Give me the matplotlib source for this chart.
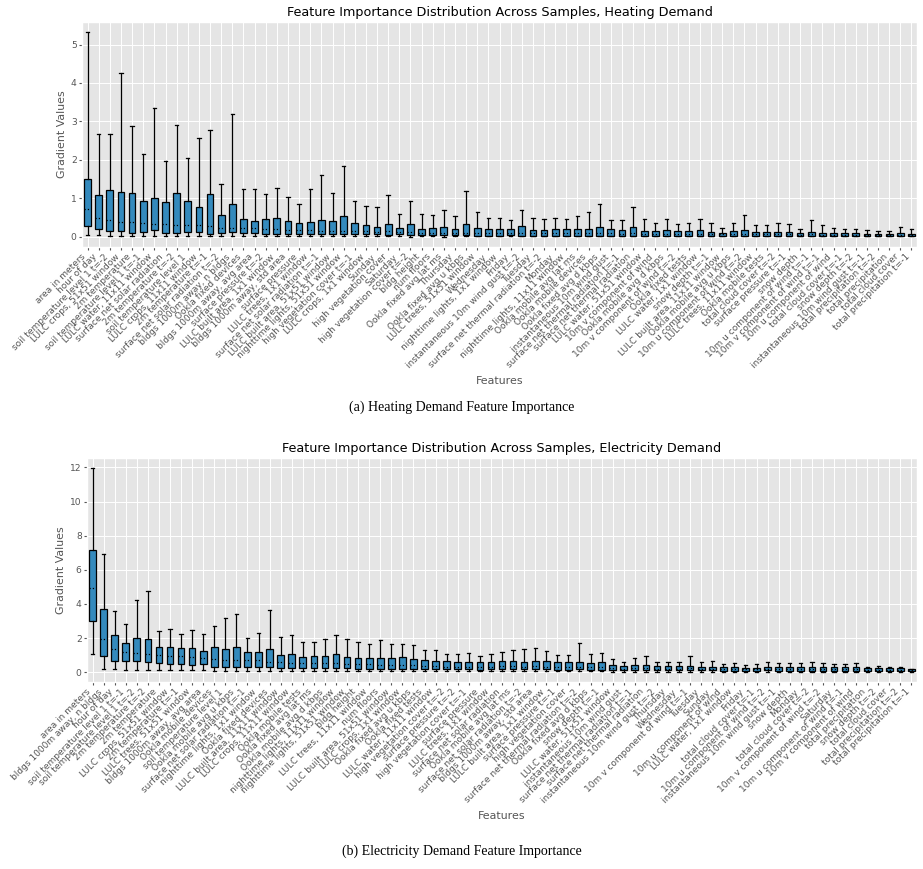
import matplotlib
matplotlib.use("Agg")
import matplotlib.pyplot as plt

# heating demand: features sorted by importance
heat_feats = [
    "area in meters", "hour of day", "soil temperature level 1 t=-2", "LULC crops, 51x51 window",
    "2m temperature", "soil temperature level 1 t=-1", "LULC water, 11x11 window",
    "surface net solar radiation", "2m temperature t=-2", "soil temperature level 1",
    "LULC crops, 11x11 window", "2m temperature t=-1", "surface net solar radiation t=-2",
    "bldgs 1000m away, n bldgs", "Ookla fixed devices", "bldgs 1000m away, avg area",
    "surface pressure t=-2", "LULC built area, 1x1 window", "bldgs 1000m away, std area",
    "surface pressure", "LULC trees, 1x1 window", "surface net solar radiation t=-1",
    "LULC built area, 51x51 window", "nighttime lights, 51x51 window", "high vegetation cover t=-1",
    "LULC crops, 1x1 window", "Sunday", "high vegetation cover", "Saturday",
    "high vegetation cover t=-2", "bldg height", "num floors", "Ookla fixed avg lat ms",
    "Thursday", "Ookla fixed avg u kbps", "LULC trees, 51x51 window", "Wednesday",
    "nighttime lights, 1x1 window", "Friday", "instantaneous 10m wind gust t=-2", "Tuesday",
    "surface net thermal radiation t=-2", "Monday", "nighttime lights, 11x11 window",
    "Ookla mobile avg lat ms", "Ookla mobile devices", "Ookla fixed avg d kbps",
    "instantaneous 10m wind gust", "surface net thermal radiation t=-1",
    "surface net thermal radiation", "LULC water, 51x51 window", "10m v component of wind",
    "Ookla mobile avg d kbps", "10m v component of wind t=-2", "Ookla fixed tests",
    "LULC water, 1x1 window", "snow depth t=-1", "LULC built area, 11x11 window",
    "Ookla mobile avg u kbps", "10m u component of wind t=-2", "LULC trees, 11x11 window",
    "Ookla mobile tests", "total cloud cover t=-2", "surface pressure t=-1", "snow depth",
    "10m u component of wind t=-1", "10m v component of wind t=-1", "10m u component of wind",
    "total cloud cover t=-1", "snow depth t=-2", "instantaneous 10m wind gust t=-1",
    "total precipitation t=-2", "total precipitation", "total cloud cover",
    "total precipitation t=-1",
]
heat_hi = [5.32, 2.67, 2.67, 4.25, 2.88, 2.15, 3.34, 1.97, 2.90, 2.05,
           2.57, 2.78, 1.38, 3.20, 1.24, 1.24, 1.11, 1.27, 1.03, 0.85,
           1.24, 1.61, 1.13, 1.84, 0.92, 0.80, 0.78, 1.09, 0.58, 0.94,
           0.58, 0.57, 0.70, 0.55, 1.19, 0.65, 0.49, 0.50, 0.44, 0.69,
           0.49, 0.47, 0.49, 0.45, 0.53, 0.64, 0.86, 0.44, 0.44, 0.77,
           0.47, 0.37, 0.47, 0.33, 0.36, 0.45, 0.37, 0.24, 0.37, 0.57,
           0.30, 0.31, 0.36, 0.33, 0.19, 0.44, 0.30, 0.22, 0.20, 0.20,
           0.17, 0.16, 0.15, 0.26, 0.20]
heat_q3 = [1.50, 1.09, 1.21, 1.17, 1.14, 0.93, 1.01, 0.91, 1.14, 0.92,
           0.78, 1.10, 0.56, 0.85, 0.46, 0.42, 0.46, 0.48, 0.40, 0.36,
           0.38, 0.44, 0.40, 0.55, 0.35, 0.31, 0.25, 0.33, 0.23, 0.32,
           0.21, 0.22, 0.25, 0.20, 0.34, 0.24, 0.19, 0.19, 0.20, 0.27,
           0.18, 0.18, 0.20, 0.19, 0.20, 0.20, 0.25, 0.20, 0.17, 0.25,
           0.16, 0.16, 0.17, 0.15, 0.14, 0.17, 0.13, 0.10, 0.14, 0.17,
           0.12, 0.12, 0.13, 0.12, 0.10, 0.13, 0.10, 0.10, 0.10, 0.09,
           0.08, 0.08, 0.08, 0.09, 0.07]
heat_med = [0.73, 0.49, 0.44, 0.39, 0.39, 0.35, 0.33, 0.33, 0.31, 0.31,
            0.30, 0.27, 0.24, 0.24, 0.22, 0.22, 0.20, 0.20, 0.17, 0.17,
            0.17, 0.16, 0.16, 0.14, 0.14, 0.14, 0.12, 0.14, 0.12, 0.12,
            0.10, 0.10, 0.10, 0.10, 0.10, 0.10, 0.09, 0.09, 0.10, 0.10,
            0.09, 0.09, 0.09, 0.09, 0.09, 0.09, 0.10, 0.09, 0.08, 0.09,
            0.08, 0.08, 0.08, 0.07, 0.07, 0.08, 0.07, 0.06, 0.07, 0.07,
            0.06, 0.06, 0.06, 0.06, 0.05, 0.06, 0.05, 0.05, 0.05, 0.05,
            0.04, 0.04, 0.04, 0.04, 0.04]
heat_q1 = [0.28, 0.19, 0.14, 0.15, 0.10, 0.12, 0.17, 0.10, 0.10, 0.12,
           0.12, 0.06, 0.10, 0.12, 0.10, 0.10, 0.08, 0.08, 0.08, 0.08,
           0.08, 0.06, 0.06, 0.06, 0.06, 0.06, 0.06, 0.04, 0.06, 0.04,
           0.05, 0.04, 0.04, 0.04, 0.04, 0.03, 0.03, 0.03, 0.04, 0.03,
           0.03, 0.03, 0.03, 0.03, 0.03, 0.03, 0.03, 0.03, 0.03, 0.03,
           0.03, 0.03, 0.03, 0.03, 0.03, 0.03, 0.03, 0.03, 0.03, 0.03,
           0.02, 0.02, 0.02, 0.02, 0.02, 0.02, 0.02, 0.02, 0.02, 0.02,
           0.02, 0.02, 0.02, 0.02, 0.02]
heat_lo = [0.04, 0.04, 0.02, 0.03, 0.02, 0.02, 0.03, 0.02, 0.02, 0.02,
           0.02, 0.03, 0.02, 0.02, 0.02, 0.02, 0.02, 0.02, 0.02, 0.02,
           0.02, 0.02, 0.02, 0.02, 0.02, 0.02, 0.02, 0.01, 0.02, 0.00,
           0.02, 0.01, 0.00, 0.01, 0.02, 0.01, 0.01, 0.01, 0.01, 0.01,
           0.01, 0.01, 0.01, 0.01, 0.01, 0.01, 0.01, 0.01, 0.01, 0.01,
           0.01, 0.01, 0.01, 0.01, 0.01, 0.01, 0.01, 0.01, 0.01, 0.01,
           0.01, 0.01, 0.01, 0.01, 0.01, 0.01, 0.01, 0.01, 0.01, 0.01,
           0.01, 0.01, 0.01, 0.01, 0.01]

# electricity demand
elec_feats = [
    "area in meters", "bldgs 1000m away, n bldgs", "hour of day", "soil temperature level 1 t=-1",
    "soil temperature level 1 t=-2", "2m temperature t=-2", "2m temperature",
    "LULC crops, 51x51 window", "2m temperature t=-1", "LULC trees, 51x51 window",
    "bldgs 1000m away, avg area", "Ookla mobile devices", "soil temperature level 1",
    "Ookla mobile avg u kbps", "surface net solar radiation t=-1", "nighttime lights, 1x1 window",
    "Ookla fixed devices", "LULC built area, 11x11 window", "LULC crops, 11x11 window",
    "Ookla mobile tests", "Ookla fixed avg lat ms", "Ookla mobile avg d kbps",
    "nighttime lights, 11x11 window", "nighttime lights, 51x51 window", "bldg height",
    "LULC trees, 11x11 window", "num floors", "LULC built area, 51x51 window",
    "LULC crops, 1x1 window", "Ookla fixed avg u kbps", "Ookla fixed tests",
    "LULC water, 11x11 window", "high vegetation cover t=-2", "surface pressure t=-2",
    "high vegetation cover t=-1", "surface pressure", "LULC trees, 1x1 window",
    "surface net solar radiation", "Ookla mobile avg lat ms", "surface net solar radiation t=-2",
    "bldgs 1000m away, std area", "LULC built area, 1x1 window", "surface pressure t=-1",
    "high vegetation cover", "surface net thermal radiation t=-2", "Ookla fixed avg d kbps",
    "snow depth t=-1", "LULC water, 51x51 window", "instantaneous 10m wind gust",
    "surface net thermal radiation t=-1", "surface net thermal radiation",
    "instantaneous 10m wind gust t=-2", "Thursday", "Wednesday", "10m v component of wind t=-1",
    "Tuesday", "Sunday", "10m u component of wind", "LULC water, 1x1 window", "Friday",
    "total cloud cover t=-1", "10m u component of wind t=-2", "instantaneous 10m wind gust t=-1",
    "snow depth", "Monday", "total cloud cover t=-2", "10m v component of wind t=-2",
    "Saturday", "10m u component of wind t=-1", "10m v component of wind",
    "total precipitation", "snow depth t=-2", "total cloud cover", "total precipitation t=-2",
    "total precipitation t=-1",
]
elec_hi = [11.96, 6.92, 3.58, 2.83, 4.26, 4.73, 2.40, 2.52, 2.21, 2.48,
           2.21, 2.68, 3.15, 3.42, 2.03, 2.29, 3.65, 2.09, 2.15, 1.78,
           1.74, 1.93, 2.17, 1.92, 1.76, 1.64, 1.88, 1.64, 1.68, 1.58,
           1.29, 1.29, 1.07, 1.07, 1.11, 0.96, 1.07, 1.21, 1.31, 1.35,
           1.41, 1.25, 0.98, 0.98, 1.72, 1.07, 1.11, 0.80, 0.59, 0.84,
           0.92, 0.61, 0.57, 0.61, 0.96, 0.57, 0.64, 0.49, 0.53, 0.43,
           0.45, 0.61, 0.53, 0.51, 0.51, 0.57, 0.51, 0.49, 0.49, 0.51,
           0.31, 0.39, 0.33, 0.33, 0.21]
elec_q3 = [7.19, 3.69, 2.17, 1.70, 2.01, 1.95, 1.47, 1.45, 1.39, 1.41,
           1.25, 1.47, 1.35, 1.49, 1.19, 1.21, 1.35, 1.00, 1.06, 0.90,
           0.94, 0.94, 1.04, 0.88, 0.82, 0.84, 0.84, 0.84, 0.86, 0.80,
           0.72, 0.68, 0.63, 0.61, 0.59, 0.57, 0.61, 0.66, 0.66, 0.61,
           0.64, 0.63, 0.57, 0.57, 0.61, 0.55, 0.59, 0.43, 0.35, 0.41,
           0.43, 0.35, 0.35, 0.35, 0.39, 0.33, 0.33, 0.29, 0.29, 0.27,
           0.27, 0.33, 0.29, 0.29, 0.29, 0.29, 0.29, 0.29, 0.29, 0.29,
           0.23, 0.25, 0.23, 0.23, 0.18]
elec_med = [4.94, 1.97, 1.35, 1.17, 1.13, 1.04, 1.00, 0.94, 0.92, 0.88,
            0.82, 0.78, 0.74, 0.72, 0.74, 0.72, 0.61, 0.57, 0.55, 0.55,
            0.51, 0.51, 0.53, 0.47, 0.45, 0.45, 0.43, 0.43, 0.41, 0.41,
            0.37, 0.35, 0.33, 0.33, 0.32, 0.31, 0.33, 0.35, 0.35, 0.33,
            0.35, 0.33, 0.31, 0.31, 0.33, 0.30, 0.31, 0.24, 0.21, 0.23,
            0.24, 0.21, 0.21, 0.21, 0.22, 0.20, 0.20, 0.18, 0.18, 0.17,
            0.17, 0.19, 0.18, 0.18, 0.18, 0.18, 0.18, 0.18, 0.18, 0.18,
            0.14, 0.15, 0.14, 0.14, 0.11]
elec_q1 = [2.99, 0.92, 0.63, 0.64, 0.64, 0.57, 0.51, 0.47, 0.45, 0.41,
           0.47, 0.33, 0.33, 0.29, 0.33, 0.33, 0.29, 0.27, 0.27, 0.27,
           0.27, 0.25, 0.27, 0.23, 0.21, 0.21, 0.21, 0.21, 0.20, 0.20,
           0.18, 0.18, 0.16, 0.16, 0.16, 0.15, 0.16, 0.17, 0.17, 0.16,
           0.17, 0.16, 0.15, 0.15, 0.16, 0.15, 0.15, 0.12, 0.11, 0.12,
           0.12, 0.11, 0.11, 0.11, 0.12, 0.10, 0.10, 0.09, 0.09, 0.09,
           0.09, 0.10, 0.09, 0.09, 0.09, 0.09, 0.09, 0.09, 0.09, 0.09,
           0.07, 0.08, 0.07, 0.07, 0.06]
elec_lo = [1.06, 0.18, 0.18, 0.12, 0.14, 0.12, 0.10, 0.10, 0.10, 0.10,
           0.10, 0.08, 0.08, 0.08, 0.08, 0.08, 0.06, 0.06, 0.06, 0.06,
           0.06, 0.05, 0.05, 0.05, 0.05, 0.05, 0.05, 0.05, 0.05, 0.05,
           0.04, 0.04, 0.04, 0.04, 0.04, 0.04, 0.04, 0.04, 0.04, 0.04,
           0.04, 0.04, 0.04, 0.04, 0.04, 0.04, 0.04, 0.03, 0.03, 0.03,
           0.03, 0.03, 0.03, 0.03, 0.03, 0.03, 0.03, 0.03, 0.03, 0.03,
           0.03, 0.03, 0.03, 0.03, 0.03, 0.03, 0.03, 0.03, 0.03, 0.03,
           0.02, 0.02, 0.02, 0.02, 0.02]

plt.style.use("ggplot")
plt.rcParams["xtick.major.size"] = 2.3
plt.rcParams["ytick.major.size"] = 2.3
plt.rcParams["grid.linewidth"] = 0.7


def draw(ax, feats, lo, q1, med, q3, hi, title):
    stats = []
    for i in range(len(feats)):
        stats.append({"whislo": lo[i], "q1": q1[i], "med": med[i],
                      "q3": q3[i], "whishi": hi[i], "label": feats[i]})
    ax.bxp(stats, showfliers=False, widths=0.6, patch_artist=True,
           boxprops=dict(facecolor="#348ABD", edgecolor="black", linewidth=0.9),
           medianprops=dict(color="black", linestyle=":", linewidth=0.9),
           whiskerprops=dict(color="black", linewidth=0.9),
           capprops=dict(color="black", linewidth=0.9))
    ax.set_title(title, fontsize=9.2, pad=4)
    ax.set_xlabel("Features", fontsize=7.9, labelpad=4.5)
    ax.set_ylabel("Gradient Values", fontsize=7.9, labelpad=3)
    ax.tick_params(axis="x", labelsize=6.5, pad=1.5)
    ax.tick_params(axis="y", labelsize=6.6, pad=1.5)
    plt.setp(ax.get_xticklabels(), rotation=45, ha="right")


fig = plt.figure(figsize=(9.23, 8.69), dpi=100)
W, H = 923.0, 869.0

ax1 = fig.add_axes([82 / W, 1 - 247 / H, (917 - 82) / W, (247 - 22) / H])
draw(ax1, heat_feats, heat_lo, heat_q1, heat_med, heat_q3, heat_hi,
     "Feature Importance Distribution Across Samples, Heating Demand")

ax2 = fig.add_axes([87 / W, 1 - 682 / H, (917 - 87) / W, (682 - 458) / H])
draw(ax2, elec_feats, elec_lo, elec_q1, elec_med, elec_q3, elec_hi,
     "Feature Importance Distribution Across Samples, Electricity Demand")

fig.text(0.5, 1 - 407 / H, "(a) Heating Demand Feature Importance",
         ha="center", va="center", family="Liberation Serif", fontsize=10)
fig.text(0.5, 1 - 851 / H, "(b) Electricity Demand Feature Importance",
         ha="center", va="center", family="Liberation Serif", fontsize=10)

fig.savefig("out.png", dpi=100)
